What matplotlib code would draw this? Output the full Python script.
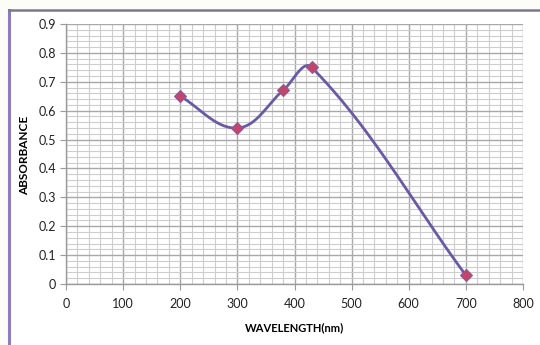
import numpy as np
import matplotlib
matplotlib.use("Agg")
import matplotlib.pyplot as plt
from matplotlib.lines import Line2D
from matplotlib.ticker import MultipleLocator

wavelength = [200, 300, 380, 430, 700]
absorbance = [0.65, 0.54, 0.67, 0.75, 0.03]
x_ticks = [0, 100, 200, 300, 400, 500, 600, 700, 800]
y_ticks = [0, 0.1, 0.2, 0.3, 0.4, 0.5, 0.6, 0.7, 0.8, 0.9]
x_label = "WAVELENGTH(nm)"
y_label = "ABSORBANCE"

plt.rcParams['font.family'] = ['Lato', 'DejaVu Sans']

fig = plt.figure(figsize=(5.4, 3.45), dpi=100)
fig.patch.set_facecolor('#fdfdf7')

# outer chart frame (left and top edges visible)
fig.add_artist(plt.Rectangle((9/540, 0), 1.0, 1 - 10/345, transform=fig.transFigure,
                             facecolor='white', edgecolor='none', zorder=-5))
fig.add_artist(Line2D([9/540, 9/540], [0, 1 - 10/345], transform=fig.transFigure,
                      color='#8c7cc0', lw=2.2))
fig.add_artist(Line2D([9/540, 1.0], [1 - 10/345, 1 - 10/345], transform=fig.transFigure,
                      color='#7c7890', lw=1.8))

ax = fig.add_axes([66/540, 1 - 284/345, (523 - 66)/540, (284 - 24)/345])
ax.set_xlim(x_ticks[0], x_ticks[-1])
ax.set_ylim(y_ticks[0], y_ticks[-1])
ax.set_xticks(x_ticks)
ax.set_yticks(y_ticks)
ax.set_yticklabels(["0" if v == 0 else f"{v:.1f}" for v in y_ticks])
ax.xaxis.set_minor_locator(MultipleLocator(20))
ax.yaxis.set_minor_locator(MultipleLocator(0.02))
ax.grid(which='major', color='#a8a8a8', lw=1.0)
ax.grid(which='minor', color='#cdcdcd', lw=0.8)
ax.set_axisbelow(True)
for s in ['top', 'right']:
    ax.spines[s].set_visible(False)
for s in ['left', 'bottom']:
    ax.spines[s].set_color('#9a9a9a')
    ax.spines[s].set_linewidth(1.0)
ax.tick_params(which='major', length=4, color='#9a9a9a', labelsize=9, labelcolor='#222222', pad=3)
ax.tick_params(axis='x', which='major', pad=6)
ax.tick_params(which='minor', length=0)

ax.set_xlabel(x_label, fontsize=8, fontweight='bold')
ax.set_ylabel(y_label, fontsize=8.5, fontweight='bold')
ax.xaxis.set_label_coords(0.5, (284 - 322) / 260)
ax.yaxis.set_label_coords((30 - 66) / 457, 0.5 - ((155 - 154) / 260))

# Excel-style smoothed line (Bezier in display space, tangents scaled by segment length)
fig.canvas.draw()
pts = ax.transData.transform(np.column_stack([wavelength, absorbance]))
P = np.vstack([pts[0], pts, pts[-1]])
curve = []
t = np.linspace(0, 1, 80)[:, None]

def unit(v):
    n = np.hypot(*v)
    return v / n if n > 0 else v

for i in range(1, len(P) - 2):
    p0, p1, p2, p3 = P[i - 1], P[i], P[i + 1], P[i + 2]
    L = np.hypot(*(p2 - p1))
    c1 = p1 + unit(p2 - p0) * L / 3
    c2 = p2 - unit(p3 - p1) * L / 3
    seg = ((1 - t) ** 3) * p1 + 3 * ((1 - t) ** 2) * t * c1 + 3 * (1 - t) * t ** 2 * c2 + t ** 3 * p2
    curve.append(seg)
curve = ax.transData.inverted().transform(np.vstack(curve))
ax.plot(curve[:, 0], curve[:, 1], color='#6a5aa6', lw=2.0, zorder=3, clip_on=False)
ax.plot(wavelength, absorbance, ls='none', marker='D', ms=6.5, mfc='#c4456a',
        mec='#8a5aa0', mew=0.8, zorder=4, clip_on=False)

fig.savefig('out.png', dpi=100, facecolor=fig.get_facecolor())
